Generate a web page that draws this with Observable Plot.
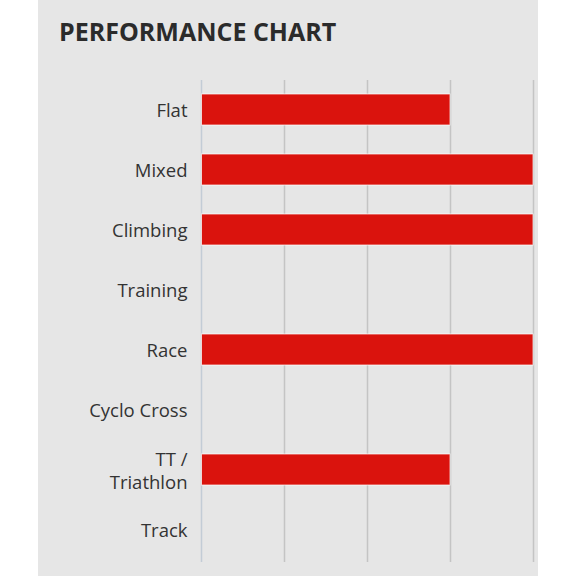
<!DOCTYPE html>
<html>
<head>
<meta charset="utf-8">
<script src="https://cdn.jsdelivr.net/npm/d3@7"></script>
<script src="https://cdn.jsdelivr.net/npm/@observablehq/plot@0.6"></script>
<style>
  html, body { margin: 0; padding: 0; background: #ffffff; }
  #page { position: relative; width: 576px; height: 576px; overflow: hidden; }
  #panel { position: absolute; left: 38px; top: 0; width: 500px; height: 576px; background: #e6e6e6; }
  #title { position: absolute; left: 59px; top: 14px; margin: 0; font-family: "Open Sans", sans-serif; font-weight: 700; font-size: 25px; color: #2b2b2b; letter-spacing: 0; white-space: nowrap; }
  #chart { position: absolute; left: 0; top: 80px; }
</style>
</head>
<body>
<div id="page">
  <div id="panel"></div>
  <h2 id="title">PERFORMANCE CHART</h2>
  <div id="chart"></div>
</div>
<script>
const categories = ["Flat", "Mixed", "Climbing", "Training", "Race", "Cyclo Cross", "TT / Triathlon", "Track"];
const labels = ["Flat", "Mixed", "Climbing", "Training", "Race", "Cyclo Cross", "TT /\nTriathlon", "Track"];
const ratings = [3, 4, 4, 0, 4, 0, 3, 0];
const ticks = [0, 1, 2, 3, 4];

const data = categories.map((c, i) => ({category: c, label: labels[i], value: ratings[i]}));

const chart = Plot.plot({
  width: 576,
  height: 496,
  marginLeft: 201,
  marginRight: 43,
  marginTop: 0,
  marginBottom: 14,
  style: {background: "transparent", fontFamily: "'Open Sans', sans-serif"},
  x: {domain: [0, 4], axis: null},
  y: {domain: categories, range: [0, 480], padding: 0.48, paddingOuter: 0.24, axis: null},
  marks: [
    Plot.ruleX(ticks.slice(1), {stroke: "#c4c4c4", strokeWidth: 1.5}),
    Plot.ruleX([0], {stroke: "#c3ccd6", strokeWidth: 1.5}),
    Plot.barX(data.filter(d => d.value > 0), {x1: 0, x2: "value", y: "category", fill: "#da130d", stroke: "#ffffff", strokeWidth: 1, strokeOpacity: 0.7, insetLeft: 0.5}),
    Plot.text(data, {x: 0, y: "category", text: "label", textAnchor: "end", dx: -14, fontSize: 18.5, lineHeight: 1.25, fill: "#333333"})
  ]
});
document.getElementById("chart").appendChild(chart);
</script>
</body>
</html>
